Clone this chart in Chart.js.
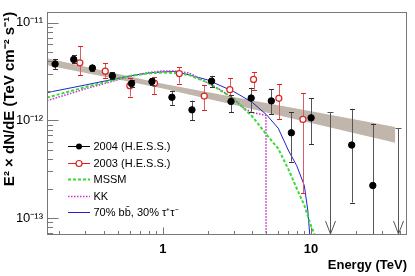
<!DOCTYPE html>
<html><head><meta charset="utf-8">
<script src="https://cdn.jsdelivr.net/npm/chart.js@4.4.1/dist/chart.umd.min.js"></script>
<style>html,body{margin:0;padding:0;background:#fff}#wrap{width:415px;height:276px}</style>
</head><body><div id="wrap"><canvas id="c" width="415" height="276"></canvas></div>
<script>
const FONT = '"Liberation Sans", Arial, Helvetica, sans-serif';

// ---- data (E in TeV, E^2 dN/dE in TeV cm^-2 s^-1) ----
const band_E     = [0.165, 0.5, 1, 3, 10, 37];
const band_upper = [4.32e-12, 2.98e-12, 2.37e-12, 1.73e-12, 1.24e-12, 8.53e-13];
const band_lower = [3.66e-12, 2.62e-12, 2.11e-12, 1.44e-12, 9.38e-13, 5.90e-13];

const hess2004_E       = [0.187, 0.250, 0.334, 0.456, 0.614, 0.843, 1.15, 1.57, 2.13, 2.88, 3.94, 5.39, 7.36, 10.0, 18.8, 26.1];
const hess2004_flux    = [3.77e-12, 4.20e-12, 3.43e-12, 2.85e-12, 2.38e-12, 2.49e-12, 1.72e-12, 1.28e-12, 2.52e-12, 1.56e-12, 1.69e-12, 1.58e-12, 7.45e-13, 1.06e-12, 5.58e-13, 2.15e-13];
const hess2004_errHigh = [4.26e-12, 4.62e-12, 3.71e-12, 3.09e-12, 2.61e-12, 2.71e-12, 2.01e-12, 1.59e-12, 2.85e-12, 1.82e-12, 2.15e-12, 2.08e-12, 1.21e-12, 1.69e-12, 1.31e-12, 9.27e-13];
const hess2004_errLow  = [3.32e-12, 3.88e-12, 3.18e-12, 2.62e-12, 2.17e-12, 2.30e-12, 1.44e-12, 1.00e-12, 2.20e-12, 1.21e-12, 1.23e-12, 1.16e-12, 3.77e-13, 5.69e-13, 1.44e-13, 1e-15];
const hess2004_ul_E    = [13.5, 38.7];
const hess2004_ul_flux = [1.22e-12, 8.35e-13];

const hess2003_E       = [0.275, 0.408, 0.598, 0.877, 1.29, 1.90, 2.83, 4.09, 6.06, 8.81];
const hess2003_flux    = [3.88e-12, 3.18e-12, 2.26e-12, 2.40e-12, 3.01e-12, 1.77e-12, 2.06e-12, 2.62e-12, 1.68e-12, 1.02e-12];
const hess2003_errHigh = [5.73e-12, 3.83e-12, 2.72e-12, 2.78e-12, 3.51e-12, 2.29e-12, 2.69e-12, 3.13e-12, 2.35e-12, 1.89e-12];
const hess2003_errLow  = [2.90e-12, 2.72e-12, 1.75e-12, 1.86e-12, 2.38e-12, 1.26e-12, 1.56e-12, 2.06e-12, 1.02e-12, 1.80e-13];

const mssm_E    = [0.165, 0.3, 0.6, 0.8, 1, 1.2, 1.5, 2, 3, 4, 5, 6, 7, 8, 9, 10, 11, 12];
const mssm_flux = [1.71e-12, 2.19e-12, 2.85e-12, 3.02e-12, 3.09e-12, 3.05e-12, 2.90e-12, 2.44e-12, 1.67e-12, 1.10e-12, 7.15e-13, 5.13e-13, 3.2e-13, 2.01e-13, 1.35e-13, 8.3e-14, 5.8e-14, 3e-14];

const kk_E    = [0.165, 0.3, 0.6, 0.8, 1, 1.2, 1.5, 2, 2.5, 3, 3.5, 4, 4.5, 4.96, 4.97];
const kk_flux = [1.59e-12, 2.10e-12, 2.82e-12, 3.08e-12, 3.2e-12, 3.2e-12, 3.05e-12, 2.42e-12, 2.01e-12, 1.65e-12, 1.33e-12, 1.20e-12, 1.16e-12, 1.12e-12, 1e-14];

const bbtau_E    = [0.165, 0.3, 0.6, 0.8, 1, 1.2, 1.5, 2, 3, 4, 5, 6, 7, 8, 9, 9.5, 9.9, 10.2];
const bbtau_flux = [1.92e-12, 2.30e-12, 2.85e-12, 3.05e-12, 3.13e-12, 3.16e-12, 2.92e-12, 2.59e-12, 1.97e-12, 1.53e-12, 1.14e-12, 8.3e-13, 4.98e-13, 3.43e-13, 2.15e-13, 1.2e-13, 5.5e-14, 2e-14];

const xTickValues = [1, 10];
const xTickLabels = ['1', '10'];
const xMinorTicks = [0.2, 0.3, 0.4, 0.5, 0.6, 0.7, 0.8, 0.9, 2, 3, 4, 5, 6, 7, 8, 9, 20, 30, 40];
const yTickValues = [1e-13, 1e-12, 1e-11];
const yTickLabels = ['10\u207B\u00B9\u00B3', '10\u207B\u00B9\u00B2', '10\u207B\u00B9\u00B9'];
const yMinorTicks = [7e-14, 8e-14, 9e-14, 2e-13, 3e-13, 4e-13, 5e-13, 6e-13, 7e-13, 8e-13, 9e-13,
                     2e-12, 3e-12, 4e-12, 5e-12, 6e-12, 7e-12, 8e-12, 9e-12];
const legendLabels = ['2004 (H.E.S.S.)', '2003 (H.E.S.S.)', 'MSSM', 'KK', '70% bb\u0304, 30% \u03C4\u207A\u03C4\u207B'];
const xTitle = 'Energy (TeV)';
const yTitle = 'E\u00B2 \u00D7 dN/dE (TeV cm\u207B\u00B2 s\u207B\u00B9)';

// ---- styling ----
const C_BAND = 'rgb(192,182,172)';
const C_MSSM = '#33dd33';
const C_KK = '#cc33cc';
const C_BB = '#2222cc';
const C_RED = '#dd2222';
const C_REDERR = 'rgb(215,95,95)';
const C_BLK = '#000';
const C_BLKERR = '#555';
const C_FRAME = '#777';

const zip = (xs, ys) => xs.map((x, i) => ({x, y: ys[i]}));

const datasets = [
  {data: zip(band_E, band_upper), showLine: true, borderWidth: 0, pointRadius: 0, fill: '+1', backgroundColor: C_BAND, borderColor: 'rgba(0,0,0,0)', order: 10},
  {data: zip(band_E, band_lower), showLine: true, borderWidth: 0, pointRadius: 0, fill: false, borderColor: 'rgba(0,0,0,0)', order: 10},
  {data: zip(mssm_E, mssm_flux), showLine: true, borderColor: C_MSSM, borderWidth: 2, borderDash: [3, 2], pointRadius: 0, fill: false, order: 5},
  {data: zip(kk_E, kk_flux), showLine: true, borderColor: C_KK, borderWidth: 1.6, borderDash: [1.5, 1.5], pointRadius: 0, fill: false, order: 5},
  {data: zip(bbtau_E, bbtau_flux), showLine: true, borderColor: C_BB, borderWidth: 1, pointRadius: 0, fill: false, order: 5},
  {data: zip(hess2003_E, hess2003_flux), showLine: false, pointRadius: 3, pointBackgroundColor: '#fff', pointBorderColor: C_RED, pointBorderWidth: 1.2, order: 2},
  {data: zip(hess2004_E, hess2004_flux), showLine: false, pointRadius: 3.2, pointBackgroundColor: C_BLK, pointBorderColor: C_BLK, pointBorderWidth: 1, order: 1}
];

function errBars(chart, Es, lo, hi, lineColor, capColor) {
  const ctx = chart.ctx, xs = chart.scales.x, ys = chart.scales.y, a = chart.chartArea;
  ctx.save();
  ctx.beginPath(); ctx.rect(a.left, a.top, a.right - a.left, a.bottom - a.top); ctx.clip();
  ctx.lineWidth = 1;
  for (let i = 0; i < Es.length; i++) {
    const x = Math.round(xs.getPixelForValue(Es[i])) + 0.5;
    const y1 = ys.getPixelForValue(hi[i]);
    const y2 = Math.min(ys.getPixelForValue(lo[i]), a.bottom + 5);
    ctx.strokeStyle = lineColor;
    ctx.beginPath(); ctx.moveTo(x, y1); ctx.lineTo(x, y2); ctx.stroke();
    ctx.strokeStyle = capColor;
    ctx.beginPath();
    ctx.moveTo(x - 2.5, Math.round(y1) + 0.5); ctx.lineTo(x + 2.5, Math.round(y1) + 0.5);
    ctx.moveTo(x - 2.5, Math.round(y2) + 0.5); ctx.lineTo(x + 2.5, Math.round(y2) + 0.5);
    ctx.stroke();
  }
  ctx.restore();
}

function upperLimits(chart) {
  const ctx = chart.ctx, xs = chart.scales.x, ys = chart.scales.y, a = chart.chartArea;
  ctx.save();
  ctx.lineWidth = 1;
  ctx.strokeStyle = C_BLKERR;
  for (let i = 0; i < hess2004_ul_E.length; i++) {
    const x = Math.round(xs.getPixelForValue(hess2004_ul_E[i])) + 0.5;
    const y1 = Math.round(ys.getPixelForValue(hess2004_ul_flux[i])) + 0.5;
    const yb = a.bottom - 1;
    ctx.beginPath();
    ctx.moveTo(x, y1); ctx.lineTo(x, yb);
    ctx.moveTo(x - 3, y1); ctx.lineTo(x + 3, y1);
    ctx.moveTo(x - 5, yb - 13); ctx.lineTo(x, yb); ctx.lineTo(x + 5, yb - 13);
    ctx.stroke();
  }
  ctx.restore();
}

const decor = {
  id: 'decor',
  beforeDatasetDraw(chart, args) {
    if (args.index === 5) errBars(chart, hess2003_E, hess2003_errLow, hess2003_errHigh, C_REDERR, C_RED);
    if (args.index === 6) {
      errBars(chart, hess2004_E, hess2004_errLow, hess2004_errHigh, C_BLKERR, '#333');
      upperLimits(chart);
    }
  },
  afterDraw(chart) {
    const ctx = chart.ctx, xs = chart.scales.x, ys = chart.scales.y, a = chart.chartArea;
    ctx.save();
    // frame
    ctx.strokeStyle = C_FRAME; ctx.lineWidth = 1;
    ctx.strokeRect(Math.round(a.left) + 0.5, Math.round(a.top) + 0.5, Math.round(a.right - a.left) - 1, Math.round(a.bottom - a.top) - 1);
    // ticks
    ctx.beginPath();
    const L = Math.round(a.left) + 0.5, B = Math.round(a.bottom) - 0.5;
    yTickValues.forEach(v => { const y = Math.round(ys.getPixelForValue(v)) + 0.5; ctx.moveTo(L, y); ctx.lineTo(L + 11, y); });
    yMinorTicks.forEach(v => { const y = Math.round(ys.getPixelForValue(v)) + 0.5; ctx.moveTo(L, y); ctx.lineTo(L + 5.5, y); });
    xTickValues.forEach(v => { const x = Math.round(xs.getPixelForValue(v)) + 0.5; ctx.moveTo(x, B); ctx.lineTo(x, B - 7); });
    xMinorTicks.forEach(v => { const x = Math.round(xs.getPixelForValue(v)) + 0.5; ctx.moveTo(x, B); ctx.lineTo(x, B - 3.5); });
    ctx.stroke();
    // legend
    const lx0 = 68, lx1 = 90, tx = 93.5;
    ctx.font = '11px ' + FONT;
    ctx.textBaseline = 'middle';
    ctx.textAlign = 'left';
    legendLabels.forEach((t, i) => {
      const y = Math.round(146 + i * 16.5) + 0.5;
      ctx.setLineDash([]);
      if (i === 0) { ctx.strokeStyle = '#000'; ctx.lineWidth = 1; }
      if (i === 1) { ctx.strokeStyle = C_RED; ctx.lineWidth = 1; }
      if (i === 2) { ctx.strokeStyle = C_MSSM; ctx.lineWidth = 2; ctx.setLineDash([3, 2]); }
      if (i === 3) { ctx.strokeStyle = C_KK; ctx.lineWidth = 1.6; ctx.setLineDash([1.5, 1.5]); }
      if (i === 4) { ctx.strokeStyle = C_BB; ctx.lineWidth = 1; }
      ctx.beginPath(); ctx.moveTo(lx0, y); ctx.lineTo(lx1, y); ctx.stroke();
      ctx.setLineDash([]);
      if (i === 0) { ctx.fillStyle = '#000'; ctx.beginPath(); ctx.arc(79, y, 3, 0, Math.PI * 2); ctx.fill(); }
      if (i === 1) { ctx.fillStyle = '#fff'; ctx.lineWidth = 1.2; ctx.beginPath(); ctx.arc(79, y, 3, 0, Math.PI * 2); ctx.fill(); ctx.stroke(); }
      ctx.fillStyle = '#000';
      ctx.fillText(t, tx, y);
    });
    ctx.restore();
  }
};

new Chart(document.getElementById('c'), {
  type: 'scatter',
  data: {datasets},
  options: {
    responsive: false, animation: false, devicePixelRatio: 1,
    layout: {padding: {top: 9, right: 8, left: 0, bottom: 0}},
    plugins: {legend: {display: false}, tooltip: {enabled: false}},
    scales: {
      x: {
        type: 'logarithmic', position: 'bottom', min: 0.165, max: 44.4,
        grid: {display: false, drawTicks: false}, border: {display: false},
        afterBuildTicks: s => { s.ticks = xTickValues.map(v => ({value: v})); },
        afterFit: s => { s.height = 41; },
        ticks: {autoSkip: false, maxRotation: 0, padding: 7, color: '#000',
          font: {family: FONT, size: 13, weight: 'bold'},
          callback: v => { const i = xTickValues.indexOf(v); return i >= 0 ? xTickLabels[i] : ''; }},
        title: {display: true, text: xTitle, align: 'end', color: '#000',
          font: {family: FONT, size: 13, weight: 'bold'}, padding: {top: 0, bottom: 3}}
      },
      y: {
        type: 'logarithmic', position: 'left', min: 6.7e-14, max: 1.29e-11,
        grid: {display: false, drawTicks: false}, border: {display: false},
        afterBuildTicks: s => { s.ticks = yTickValues.map(v => ({value: v})); },
        afterFit: s => { s.width = 47; },
        ticks: {autoSkip: false, padding: 4, color: '#000',
          font: {family: FONT, size: 13},
          callback: v => { const i = yTickValues.findIndex(t => Math.abs(t - v) / t < 1e-6); return i >= 0 ? yTickLabels[i] : ''; }},
        title: {display: true, text: yTitle, align: 'end', color: '#000',
          font: {family: FONT, size: 15, weight: 'bold'}, padding: {top: 1, bottom: 0}}
      }
    }
  },
  plugins: [decor]
});
</script></body></html>
